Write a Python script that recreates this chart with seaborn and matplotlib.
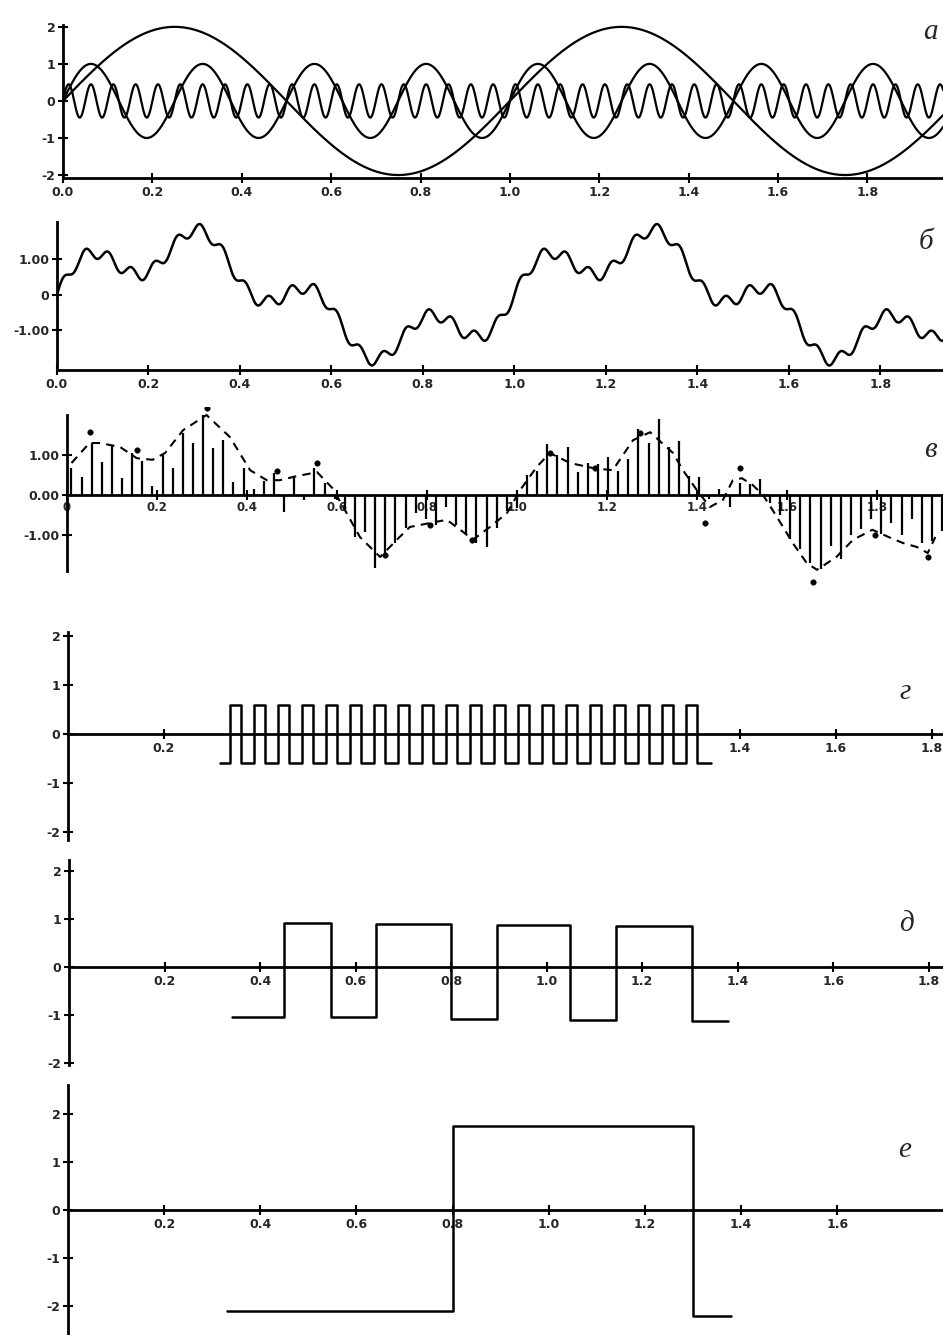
import numpy as np
import pandas as pd
import matplotlib
matplotlib.use("Agg")
import matplotlib.pyplot as plt
import seaborn as sns

# panel а: three harmonic components (amplitude, cycles per unit)
A_AMPS = [2.0, 1.0, 0.45]
A_FREQS = [1, 4, 20]

# panel б: their sum as plotted
B_AMPS = [1.3, 0.62, 0.17]
B_FREQS = [1, 4, 20]

# panel в: sampled stems, dashed envelope and marked points
V_T0, V_DT = 0.01, 0.0225
V_VALUES = [0.67, 0.46, 1.29, 0.83, 1.25, 0.42, 1.04, 0.85, 0.22, 1.0,
            0.67, 1.54, 1.29, 2.0, 1.17, 1.38, 0.33, 0.67, 0.15, 0.35,
            0.54, -0.42, 0.46, -0.12, 0.67, 0.3, -0.1, -0.37, -1.04, -0.92,
            -1.83, -1.54, -1.2, -0.83, -0.45, -0.6, -0.75, -0.3, -0.75, -1.0,
            -1.2, -1.3, -0.83, -0.4, -0.33, 0.5, 0.6, 1.27, 1.0, 1.19,
            0.57, 0.8, 0.78, 0.96, 0.6, 0.9, 1.65, 1.3, 1.9, 1.19,
            1.36, 0.48, 0.44, -0.1, 0.15, -0.3, 0.3, 0.27, 0.4, -0.2,
            -0.5, -1.1, -1.35, -1.7, -1.86, -1.27, -1.6, -1.0, -0.85, -0.6,
            -0.98, -0.69, -1.0, -0.6, -1.2, -1.15, -0.9]
V_DASH_X = [0.01, 0.05, 0.073, 0.118, 0.155, 0.19, 0.218, 0.258, 0.31, 0.362,
            0.407, 0.444, 0.473, 0.51, 0.556, 0.59, 0.614, 0.651, 0.696, 0.733,
            0.762, 0.807, 0.844, 0.88, 0.902, 0.94, 0.978, 1.007, 1.044, 1.073,
            1.118, 1.17, 1.213, 1.258, 1.296, 1.347, 1.369, 1.4, 1.429, 1.458,
            1.48, 1.5, 1.524, 1.547, 1.578, 1.613, 1.644, 1.667, 1.71, 1.747,
            1.79, 1.83, 1.858, 1.889, 1.913, 1.93]
V_DASH_Y = [0.8, 1.3, 1.3, 1.2, 0.92, 0.88, 1.05, 1.62, 2.0, 1.45,
            0.62, 0.37, 0.37, 0.47, 0.57, 0.17, -0.3, -1.05, -1.55, -1.12,
            -0.8, -0.7, -0.62, -0.92, -1.12, -0.8, -0.45, 0.12, 0.7, 1.05,
            0.8, 0.67, 0.62, 1.37, 1.57, 1.05, 0.62, 0.12, -0.3, -0.12,
            0.37, 0.42, 0.25, 0.0, -0.55, -1.2, -1.7, -1.87, -1.55, -1.12,
            -0.87, -1.07, -1.2, -1.3, -1.45, -1.05]
V_DOT_X = [0.051, 0.155, 0.311, 0.467, 0.556, 0.707, 0.807, 0.9, 1.073,
           1.173, 1.273, 1.418, 1.496, 1.658, 1.796, 1.913]
V_DOT_Y = [1.57, 1.12, 2.17, 0.6, 0.8, -1.5, -0.75, -1.12, 1.05,
           0.67, 1.55, -0.7, 0.67, -2.17, -1.0, -1.55]

# panel г: fast square wave
G_START, G_END = 0.317, 1.34
G_RISE = [0.338, 0.388, 0.438, 0.488, 0.538, 0.588, 0.638, 0.688, 0.738, 0.788,
          0.838, 0.888, 0.938, 0.988, 1.038, 1.088, 1.138, 1.188, 1.238, 1.288]
G_FALL = [0.360, 0.410, 0.460, 0.510, 0.560, 0.610, 0.660, 0.710, 0.760, 0.810,
          0.860, 0.910, 0.960, 1.010, 1.060, 1.110, 1.160, 1.210, 1.260, 1.310]
G_HIGH, G_LOW = 0.6, -0.6

# panel д: slower square wave (edge times and levels)
D_EDGES = [0.342, 0.451, 0.548, 0.643, 0.800, 0.897, 1.050, 1.145, 1.305, 1.380]
D_LEVELS = [-1.05, 0.92, -1.05, 0.90, -1.08, 0.88, -1.10, 0.86, -1.12, -1.12]

# panel е: single pulse
E_EDGES = [0.33, 0.80, 1.30, 1.38]
E_LEVELS = [-2.1, 1.75, -2.2, -2.2]

W, H = 943, 1335
sns.set_theme(style="white")
plt.rcParams["font.family"] = ["DejaVu Sans"]

fig = plt.figure(figsize=(W / 100, H / 100), dpi=100)


def px_axes(left, top, right, bottom):
    return fig.add_axes([left / W, 1 - bottom / H, (right - left) / W, (bottom - top) / H])


def style(ax, zero_axis=False):
    ax.set_facecolor("none")
    for s in ["top", "right"]:
        ax.spines[s].set_visible(False)
    for s in ["left", "bottom"]:
        ax.spines[s].set_linewidth(2.0)
        ax.spines[s].set_color("black")
    if zero_axis:
        ax.spines["bottom"].set_position(("data", 0))
    ax.tick_params(direction="inout", length=7, width=1.5, color="black",
                   labelsize=9, pad=2, bottom=True, left=True)
    for lab in ax.get_xticklabels() + ax.get_yticklabels():
        lab.set_fontweight("bold")
    ax.set_xlabel("")
    ax.set_ylabel("")


def line(ax, x, y, **kw):
    sns.lineplot(x=x, y=y, ax=ax, color="black", estimator=None, sort=False,
                 legend=False, **kw)


xt = [0.0, 0.2, 0.4, 0.6, 0.8, 1.0, 1.2, 1.4, 1.6, 1.8]
xt_lab = ["0.0", "0.2", "0.4", "0.6", "0.8", "1.0", "1.2", "1.4", "1.6", "1.8"]

# ---- а
ax = px_axes(63, 25, 943, 178)
xa = np.linspace(0, 1.97, 3000)
for amp, f in zip(A_AMPS, A_FREQS):
    line(ax, xa, amp * np.sin(2 * np.pi * f * xa), lw=1.6)
ax.set_xlim(0, 1.969)
ax.set_ylim(-2.08, 2.05)
ax.set_xticks(xt, xt_lab)
ax.set_yticks([2, 1, 0, -1, -2], ["2", "1", "0", "-1", "-2"])
style(ax)

# ---- б
ax = px_axes(57, 222, 943, 370)
xb = np.linspace(0, 1.94, 3000)
yb = sum(a * np.sin(2 * np.pi * f * xb) for a, f in zip(B_AMPS, B_FREQS))
line(ax, xb, yb, lw=1.8)
ax.set_xlim(0, 1.937)
ax.set_ylim(-2.12, 2.05)
ax.set_xticks(xt, xt_lab)
ax.set_yticks([1, 0, -1], ["1.00", "0", "-1.00"])
style(ax)

# ---- в
ax = px_axes(67, 407, 943, 585)
vt = V_T0 + V_DT * np.arange(len(V_VALUES))
ax.vlines(vt, 0, V_VALUES, color="black", lw=1.6)
line(ax, V_DASH_X, V_DASH_Y, lw=1.5, linestyle=(0, (4, 3)))
sns.scatterplot(x=V_DOT_X, y=V_DOT_Y, ax=ax, color="black", s=16, edgecolor="black")
ax.set_xlim(0, 1.947)
ax.set_ylim(-2.25, 2.2)
ax.set_xticks(xt, ["0"] + xt_lab[1:])
ax.set_yticks([1, 0, -1], ["1.00", "0.00", "-1.00"])
style(ax, zero_axis=True)
ax.spines["left"].set_bounds(-1.9, 2.0)
ax.tick_params(axis="x", labelsize=8.5, pad=1)

# ---- г
ax = px_axes(68, 632, 943, 840)
gx = [G_START] + [v for pair in zip(G_RISE, G_FALL) for v in pair] + [G_END]
gy = [G_LOW] + [G_HIGH, G_LOW] * len(G_RISE) + [G_LOW]
line(ax, gx, gy, lw=1.8, drawstyle="steps-post")
ax.set_xlim(0, 1.823)
ax.set_ylim(-2.16, 2.08)
ax.set_xticks([0.2, 1.4, 1.6, 1.8], ["0.2", "1.4", "1.6", "1.8"])
ax.set_yticks([2, 1, 0, -1, -2], ["2", "1", "0", "-1", "-2"])
style(ax, zero_axis=True)

# ---- д
ax = px_axes(69, 860, 943, 1065)
line(ax, D_EDGES, D_LEVELS, lw=1.8, drawstyle="steps-post")
ax.set_xlim(0, 1.83)
ax.set_ylim(-2.04, 2.23)
ax.set_xticks(xt[1:], xt_lab[1:])
ax.set_yticks([2, 1, 0, -1, -2], ["2", "1", "0", "-1", "-2"])
style(ax, zero_axis=True)

# ---- е
ax = px_axes(68, 1085, 943, 1335)
line(ax, E_EDGES, E_LEVELS, lw=1.8, drawstyle="steps-post")
ax.set_xlim(0, 1.82)
ax.set_ylim(-2.6, 2.6)
ax.set_xticks(xt[1:-1], xt_lab[1:-1])
ax.set_yticks([2, 1, 0, -1, -2], ["2", "1", "0", "-1", "-2"])
style(ax, zero_axis=True)

# panel letters
for txt, (px, py) in zip(["а", "б", "в", "г", "д", "е"],
                         [(930, 32), (926, 242), (930, 450), (905, 692), (907, 924), (905, 1150)]):
    fig.text(px / W, 1 - py / H, txt, fontsize=21, style="italic",
             family=["Liberation Serif", "DejaVu Serif"], ha="center", va="center")

fig.savefig("out.png", dpi=100)
